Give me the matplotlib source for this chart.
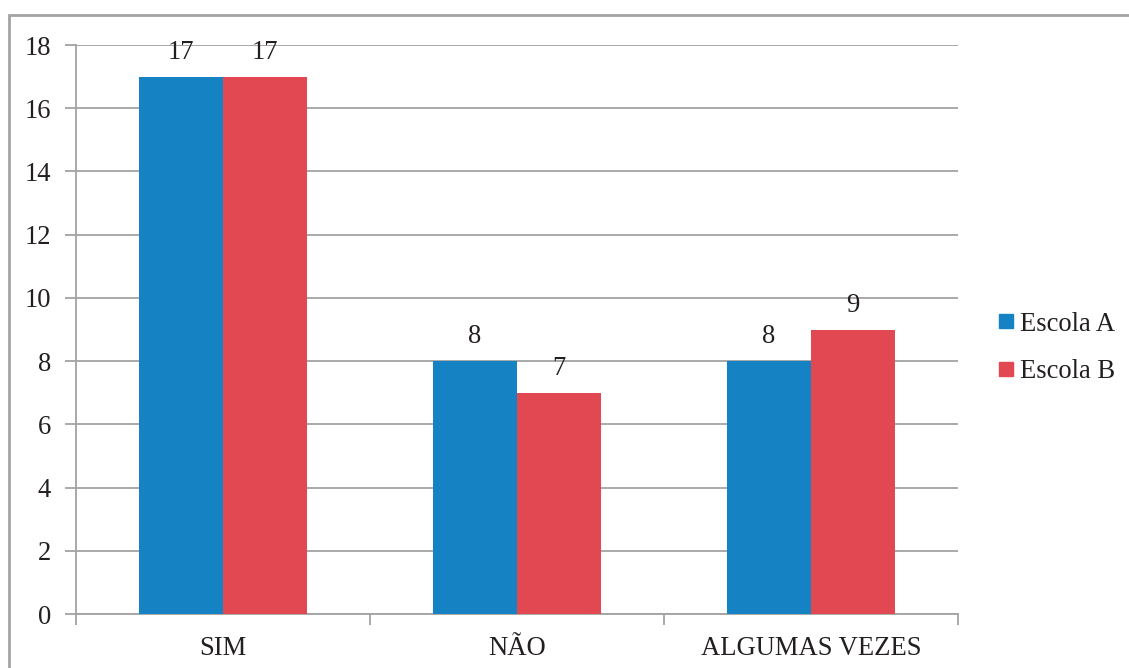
import matplotlib

matplotlib.use('Agg')

import numpy as np
import matplotlib.pyplot as plt
from matplotlib.patches import Rectangle
from matplotlib.lines import Line2D

categorias = ['SIM', 'NÃO', 'ALGUMAS VEZES']
escola_a = [17, 8, 8]
escola_b = [17, 7, 9]
series = ['Escola A', 'Escola B']
yticks = list(range(0, 19, 2))

cor_a = '#1582C4'
cor_b = '#E14851'
cinza = '#A3A3A3'
texto = '#231F20'

plt.rcParams['font.family'] = ['Liberation Serif', 'DejaVu Serif']
plt.rcParams['font.size'] = 19.2

fig = plt.figure(figsize=(11.29, 6.68), dpi=100)
ax = fig.add_axes([0.0673, 0.0808, 0.7812, 0.8518])

# moldura do gráfico
fig.patches.append(Rectangle((9 / 1129, -0.1), 1.2, 1 - 15 / 668 + 0.1,
                             transform=fig.transFigure, fill=False,
                             edgecolor=cinza, linewidth=2))

x = np.arange(len(categorias))
w = 1 / 3.5
bars_a = ax.bar(x - w / 2, escola_a, w, color=cor_a, zorder=3)
bars_b = ax.bar(x + w / 2, escola_b, w, color=cor_b, zorder=3)

for bars, vals in ((bars_a, escola_a), (bars_b, escola_b)):
    for b, v in zip(bars, vals):
        ax.annotate(str(v), (b.get_x() + b.get_width() / 2, v),
                    xytext=(0, 8.5), textcoords='offset points',
                    ha='center', va='bottom', color=texto)

ax.set_xlim(-0.5, len(categorias) - 0.5)
ax.set_ylim(0, 18)
ax.set_yticks(yticks)
ax.set_xticks(x)
ax.set_xticklabels(categorias)
ax.set_xticks(np.arange(len(categorias) + 1) - 0.5, minor=True)
ax.tick_params(axis='x', which='major', length=0, pad=16, labelcolor=texto)
ax.tick_params(axis='x', which='minor', length=8, color=cinza, width=1.3)
ax.tick_params(axis='y', length=8, color=cinza, width=1.3, pad=10,
               labelcolor=texto)

ax.grid(axis='y', color=cinza, linewidth=1.3, zorder=0)
for s in ('top', 'right'):
    ax.spines[s].set_visible(False)
for s in ('left', 'bottom'):
    ax.spines[s].set_color(cinza)
    ax.spines[s].set_linewidth(1.3)

handles = [Line2D([], [], marker='s', linestyle='none', markersize=10,
                  markerfacecolor=c, markeredgecolor=c) for c in (cor_a, cor_b)]
leg = fig.legend(handles, series, loc='center left',
                 bbox_to_anchor=(0.870, 0.479), frameon=False,
                 handletextpad=0.0, labelspacing=0.85, handlelength=1.0,
                 borderaxespad=0)
for t in leg.get_texts():
    t.set_color(texto)

fig.savefig('out.png')
